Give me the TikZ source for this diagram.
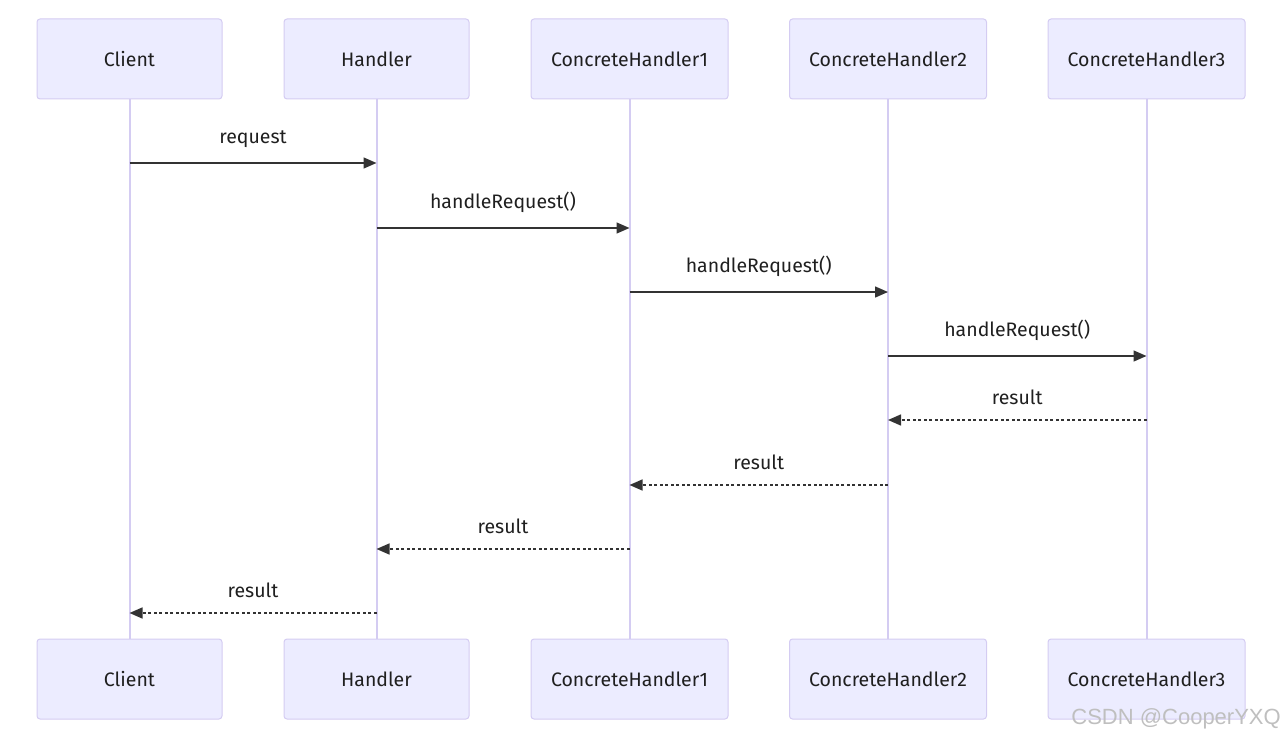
\documentclass[tikz,border=0pt]{standalone}
\usepackage{fontspec}
\setmainfont{Fira Sans}
\newfontfamily\markfont{Liberation Sans}
\usetikzlibrary{arrows.meta}
\definecolor{actorfill}{HTML}{ECECFF}
\definecolor{actorline}{HTML}{D4CCF2}
\definecolor{msgline}{HTML}{333333}
\begin{document}
\begin{tikzpicture}[x=1pt,y=-1pt]
        \tikzstyle{every node}=[font=\fontsize{19.5}{23}\selectfont, text=black!88]
        \tikzstyle{actor}=[draw=actorline, fill=actorfill, line width=1pt, rounded corners=3pt, minimum height=80pt, inner sep=0pt]
        \tikzstyle{lifeline}=[draw=actorline, line width=2pt]
        \tikzstyle{msg}=[draw=msgline, line width=1.5pt, -{Triangle[length=13pt,width=11pt]}]
        \tikzstyle{reply}=[msg, dash pattern=on 3pt off 2.5pt]
        \tikzstyle{msglabel}=[above=15pt, inner sep=0pt]

        \useasboundingbox (0,0) rectangle (1284,738);

        % top row
        \node[actor, minimum width=185pt] (clientTop) at (129.5,59) {Client};
        \node[actor, minimum width=185pt] (handlerTop) at (376.5,59) {Handler};
        \node[actor, minimum width=197pt] (oneTop) at (629.5,59) {ConcreteHandler1};
        \node[actor, minimum width=197pt] (twoTop) at (888,59) {ConcreteHandler2};
        \node[actor, minimum width=197pt] (threeTop) at (1146.5,59) {ConcreteHandler3};

        % bottom row
        \node[actor, minimum width=185pt] (clientBot) at (129.5,679) {Client};
        \node[actor, minimum width=185pt] (handlerBot) at (376.5,679) {Handler};
        \node[actor, minimum width=197pt] (oneBot) at (629.5,679) {ConcreteHandler1};
        \node[actor, minimum width=197pt] (twoBot) at (888,679) {ConcreteHandler2};
        \node[actor, minimum width=197pt] (threeBot) at (1146.5,679) {ConcreteHandler3};

        % lifelines
        \draw[lifeline] (clientTop) -- (clientBot);
        \draw[lifeline] (handlerTop) -- (handlerBot);
        \draw[lifeline] (oneTop) -- (oneBot);
        \draw[lifeline] (twoTop) -- (twoBot);
        \draw[lifeline] (threeTop) -- (threeBot);

        % calls
        \draw[msg] (clientTop |- 0,163) -- node[msglabel] {request} (handlerTop |- 0,163);
        \draw[msg] (handlerTop |- 0,228) -- node[msglabel] {handleRequest()} (oneTop |- 0,228);
        \draw[msg] (oneTop |- 0,292) -- node[msglabel] {handleRequest()} (twoTop |- 0,292);
        \draw[msg] (twoTop |- 0,356) -- node[msglabel] {handleRequest()} (threeTop |- 0,356);

        % returns
        \draw[reply] (threeTop |- 0,420) -- node[msglabel] {result} (twoTop |- 0,420);
        \draw[reply] (twoTop |- 0,485) -- node[msglabel] {result} (oneTop |- 0,485);
        \draw[reply] (oneTop |- 0,549) -- node[msglabel] {result} (handlerTop |- 0,549);
        \draw[reply] (handlerTop |- 0,613) -- node[msglabel] {result} (clientTop |- 0,613);

        \node[anchor=south east, inner sep=0pt, text=black!25, font=\markfont\fontsize{22}{26}\selectfont] (mark) at (1281,729) {CSDN @CooperYXQ};
    \end{tikzpicture}
\end{document}
